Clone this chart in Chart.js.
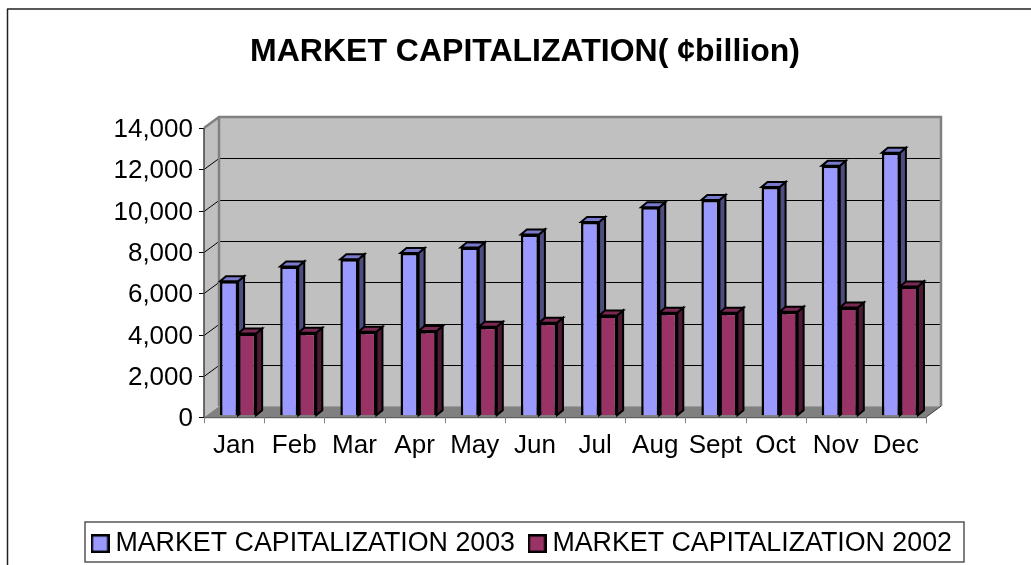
<!DOCTYPE html>
<html>
<head>
<meta charset="utf-8">
<style>
  html, body { margin: 0; padding: 0; background: #fff; overflow: hidden; }
  #wrap { position: relative; width: 1031px; height: 565px; overflow: hidden; }
  canvas { display: block; }
</style>
<script src="https://cdn.jsdelivr.net/npm/chart.js@4"></script>
</head>
<body>
<div id="wrap"><canvas id="capChart" width="1050" height="567"></canvas></div>
<script>
const months = ['Jan', 'Feb', 'Mar', 'Apr', 'May', 'Jun', 'Jul', 'Aug', 'Sept', 'Oct', 'Nov', 'Dec'];
const cap2003 = [6480, 7200, 7550, 7850, 8120, 8750, 9350, 10070, 10420, 11050, 12070, 12700];
const cap2002 = [3950, 3990, 4040, 4080, 4280, 4470, 4830, 4960, 4960, 5010, 5210, 6230];
const yTicks = [0, 2000, 4000, 6000, 8000, 10000, 12000, 14000];

const FONT = '"Liberation Sans", Arial, sans-serif';
const depthX = 15, depthY = 11;   // back wall offset
const barDX = 4, barDY = 2;       // bars stand a little inside the floor
const sideX = 6, sideY = 5;       // bar depth

function poly(ctx, pts, fill, stroke, lw) {
    ctx.beginPath();
    pts.forEach((p, i) => i ? ctx.lineTo(p[0], p[1]) : ctx.moveTo(p[0], p[1]));
    ctx.closePath();
    if (fill) { ctx.fillStyle = fill; ctx.fill(); }
    if (stroke) { ctx.strokeStyle = stroke; ctx.lineWidth = lw || 1; ctx.stroke(); }
}

// small square with a heavy border, used as the legend marker
function legendBox(color) {
    const c = document.createElement('canvas');
    c.width = 19;
    c.height = 19;
    const g = c.getContext('2d');
    g.fillStyle = '#000';
    g.fillRect(0, 0, 19, 19);
    g.fillStyle = color;
    g.fillRect(2.5, 2.5, 14, 14);
    return c;
}

// walls, floor, gridlines and tick marks, then the bars front to back
const walls = {
    id: 'walls',
    beforeDatasetsDraw(chart) {
        const { ctx, chartArea: a, scales: { y } } = chart;
        ctx.save();
        const l = a.left, r = a.right, t = a.top, b = a.bottom;
        poly(ctx, [[l, t], [l + depthX, t - depthY], [l + depthX, b - depthY], [l, b]], '#c0c0c0');
        poly(ctx, [[l + depthX, t - depthY], [r + depthX, t - depthY], [r + depthX, b - depthY], [l + depthX, b - depthY]], '#c0c0c0');
        poly(ctx, [[l, b], [l + depthX, b - depthY], [r + depthX, b - depthY], [r, b]], '#808080');

        yTicks.forEach(v => {
            const py = Math.round(y.getPixelForValue(v));
            ctx.strokeStyle = '#000';
            ctx.lineWidth = 1;
            ctx.beginPath();
            ctx.moveTo(l - 5, py + 0.5);
            ctx.lineTo(l, py + 0.5);
            if (v > 0 && v < 14000) {
                ctx.lineTo(l + depthX, py - depthY + 0.5);
                ctx.lineTo(r + depthX, py - depthY + 0.5);
            }
            ctx.stroke();
        });

        // wall edges
        ctx.strokeStyle = '#808080';
        ctx.lineWidth = 2.5;
        ctx.beginPath();
        ctx.moveTo(l, t);
        ctx.lineTo(l + depthX, t - depthY);
        ctx.lineTo(r + depthX, t - depthY);
        ctx.lineTo(r + depthX, b - depthY);
        ctx.moveTo(l + depthX, t - depthY);
        ctx.lineTo(l + depthX, b - depthY);
        ctx.stroke();

        ctx.strokeStyle = '#404040';
        ctx.lineWidth = 1.5;
        ctx.beginPath();
        ctx.moveTo(l, t);
        ctx.lineTo(l, b);
        ctx.stroke();

        ctx.strokeStyle = '#404040';
        ctx.lineWidth = 1;
        ctx.beginPath();
        ctx.moveTo(r, b);
        ctx.lineTo(r + depthX, b - depthY);
        ctx.moveTo(l, b + 0.5);
        ctx.lineTo(r, b + 0.5);
        ctx.stroke();
        ctx.strokeStyle = '#808080';
        ctx.beginPath();
        for (let i = 0; i <= months.length; i++) {
            const px = Math.round(l + (r - l) * i / months.length) + 0.5;
            ctx.moveTo(px, b);
            ctx.lineTo(px, b + 6);
        }
        ctx.stroke();
        ctx.restore();

        // 2003 has to go under 2002, the library would draw them the other way round
        chart.data.datasets.forEach((ds, i) => {
            const meta = chart.getDatasetMeta(i);
            ctx.save();
            ctx.translate(barDX, -barDY);
            meta.data.forEach(bar => {
                const bl = bar.x - bar.width / 2, br = bar.x + bar.width / 2, bt = bar.y, bb = bar.base;
                poly(ctx, [[br, bt], [br + sideX, bt - sideY], [br + sideX, bb - sideY], [br, bb]], ds.sideColor, '#000', 2);
                poly(ctx, [[bl, bt], [bl + sideX, bt - sideY], [br + sideX, bt - sideY], [br, bt]], ds.topColor, '#000', 2);
            });
            meta.controller.draw();
            ctx.restore();
        });
        return false;
    },
    // frames around the whole chart and around the legend
    afterDraw(chart) {
        const { ctx } = chart;
        ctx.save();
        ctx.strokeStyle = '#222';
        ctx.lineWidth = 1.5;
        ctx.beginPath();
        ctx.moveTo(7.5, 565);
        ctx.lineTo(7.5, 9);
        ctx.moveTo(7, 9);
        ctx.lineTo(1031, 9);
        ctx.stroke();
        ctx.strokeStyle = '#555';
        ctx.strokeRect(85, 522, 879, 40);
        ctx.restore();
    }
};

new Chart(document.getElementById('capChart'), {
    type: 'bar',
    data: {
        labels: months,
        datasets: [
            { label: 'MARKET CAPITALIZATION 2003', data: cap2003, backgroundColor: '#9999ff', borderColor: '#000', borderWidth: 2.5, sideColor: '#4d4d80', topColor: '#7a7acc' },
            { label: 'MARKET CAPITALIZATION 2002', data: cap2002, backgroundColor: '#993366', borderColor: '#000', borderWidth: 2.5, sideColor: '#4d1a33', topColor: '#7a2952' }
        ]
    },
    options: {
        responsive: false,
        animation: false,
        scales: {
            x: {
                offset: true,
                afterFit(axis) { axis.height = 93; },
                grid: { display: false, drawTicks: false },
                border: { display: false },
                ticks: { color: '#000', font: { family: FONT, size: 26 }, padding: 13, maxRotation: 0, autoSkip: false }
            },
            y: {
                min: 0,
                max: 14000,
                afterFit(axis) { axis.width = 204; },
                afterBuildTicks(axis) { axis.ticks = yTicks.map(v => ({ value: v })); },
                grid: { display: false, drawTicks: false },
                border: { display: false },
                ticks: { color: '#000', font: { family: FONT, size: 26 }, padding: 11, labelOffset: 2, callback: v => v.toLocaleString('en-US') }
            },
            // empty axis, only keeps the plot clear of the right side
            spacer: {
                position: 'right',
                afterFit(axis) { axis.width = 124; },
                grid: { display: false, drawTicks: false },
                border: { display: false },
                ticks: { display: false }
            }
        },
        datasets: { bar: { categoryPercentage: 0.6, barPercentage: 1 } },
        plugins: {
            tooltip: { enabled: false },
            title: {
                display: true,
                text: 'MARKET CAPITALIZATION( ¢billion)',
                color: '#000',
                font: { family: FONT, size: 32, weight: 'bold' },
                padding: { top: 33, bottom: 56.6 }
            },
            legend: {
                position: 'bottom',
                labels: {
                    color: '#000',
                    font: { family: FONT, size: 26.8 },
                    usePointStyle: true,
                    boxWidth: 4,
                    boxHeight: 19,
                    padding: 20,
                    generateLabels(chart) {
                        return chart.data.datasets.map((ds, i) => ({
                            text: ds.label,
                            fontColor: '#000',
                            datasetIndex: i,
                            pointStyle: legendBox(ds.backgroundColor)
                        }));
                    }
                }
            }
        }
    },
    plugins: [walls]
});
</script>
</body>
</html>
